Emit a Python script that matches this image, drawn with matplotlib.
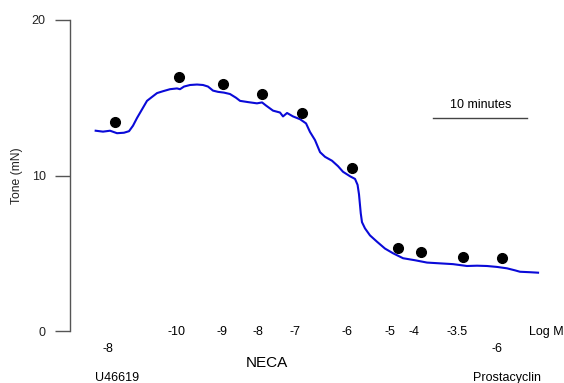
import matplotlib
matplotlib.use("Agg")
import matplotlib.pyplot as plt

plt.rcParams["font.family"] = ["Liberation Sans", "DejaVu Sans"]

# Tension trace (time in minutes, tone in mN)
trace_t = [2.73, 3.51, 4.26, 5.00, 5.74, 6.28, 6.70, 7.13, 7.66, 8.19, 8.72, 9.26,
           9.89, 10.64, 11.38, 11.70, 12.13, 12.77, 13.51, 14.15, 14.68, 15.21,
           15.74, 16.38, 17.02, 17.66, 18.09, 18.94, 19.89, 20.43, 20.85, 21.60,
           22.34, 22.66, 23.09, 23.72, 24.47, 25.11, 25.53, 26.06, 26.60, 27.13,
           27.87, 28.51, 29.04, 29.79, 30.32, 30.59, 30.74, 30.93, 31.06, 31.38,
           31.91, 32.66, 33.51, 34.36, 35.43, 36.70, 37.98, 39.36, 40.74, 42.23,
           43.30, 44.36, 45.43, 46.49, 47.34, 47.87, 48.94, 49.79]
trace_tone = [12.88, 12.82, 12.88, 12.72, 12.75, 12.85, 13.2, 13.7, 14.25, 14.8,
              15.05, 15.3, 15.42, 15.55, 15.6, 15.55, 15.72, 15.82, 15.85, 15.82,
              15.72, 15.46, 15.38, 15.33, 15.24, 15.0, 14.8, 14.72, 14.64, 14.7,
              14.5, 14.17, 14.05, 13.8, 14.02, 13.8, 13.62, 13.35, 12.8, 12.28,
              11.5, 11.2, 10.95, 10.6, 10.24, 9.95, 9.78, 9.4, 8.8, 7.57, 7.0,
              6.6, 6.15, 5.74, 5.3, 5.0, 4.68, 4.55, 4.4, 4.35, 4.3, 4.18, 4.2,
              4.18, 4.12, 4.03, 3.9, 3.81, 3.78, 3.75]

# Steady-state points after each addition
dot_t = [4.79, 11.60, 16.31, 20.46, 24.71, 30.03, 34.93, 37.37, 41.78, 45.93]
dot_tone = [13.46, 16.36, 15.86, 15.24, 14.0, 10.46, 5.34, 5.06, 4.78, 4.69]

# Concentration labels (log M)
neca_t = [11.35, 16.14, 20.03, 23.94, 29.44, 34.04, 36.60, 41.14]
neca_labels = ["-10", "-9", "-8", "-7", "-6", "-5", "-4", "-3.5"]
other_t = [4.07, 45.40]
other_labels = ["-8", "-6"]
drug_t = [4.97, 20.93, 46.50]
drug_names = ["U46619", "NECA", "Prostacyclin"]

fig = plt.figure(figsize=(5.64, 3.83), dpi=100)
ax = fig.add_axes([70 / 564, 52 / 383, 494 / 564, 311 / 383])

ax.plot(trace_t, trace_tone, color="#0a0ad8", lw=1.5)
ax.plot(dot_t, dot_tone, "o", color="black", ms=7)

ax.set_xlim(0, 52.55)
ax.set_ylim(0, 20)
for s in ["top", "right", "bottom"]:
    ax.spines[s].set_visible(False)
ax.spines["left"].set_color("#555555")
ax.spines["left"].set_linewidth(1.0)
ax.set_xticks([])
ax.set_yticks([0, 10, 20])
ax.tick_params(axis="y", length=10.5, width=1.0, color="#555555", pad=7,
               labelsize=9, labelcolor="#222222")
ax.set_ylabel("Tone (mN)", fontsize=8.7, color="#222222")
ax.yaxis.set_label_coords(-0.096, 0.5)

fs = 9
for t, lab in zip(neca_t, neca_labels):
    ax.text(t, -0.05, lab, ha="center", va="center", fontsize=fs, clip_on=False)
ax.text(50.70, -0.05, "Log M", ha="center", va="center", fontsize=fs, clip_on=False)
for t, lab in zip(other_t, other_labels):
    ax.text(t, -1.18, lab, ha="center", va="center", fontsize=fs, clip_on=False)
ax.text(drug_t[0], -3.05, drug_names[0], ha="center", va="center", fontsize=fs, clip_on=False)
ax.text(drug_t[1], -2.08, drug_names[1], ha="center", va="center", fontsize=11, clip_on=False)
ax.text(drug_t[2], -3.05, drug_names[2], ha="center", va="center", fontsize=fs, clip_on=False)

# 10 minute scale bar
ax.plot([38.65, 48.65], [13.72, 13.72], color="#444444", lw=1.0)
ax.text(43.65, 14.53, "10 minutes", ha="center", va="center", fontsize=fs)

fig.savefig("out.png", dpi=100)
